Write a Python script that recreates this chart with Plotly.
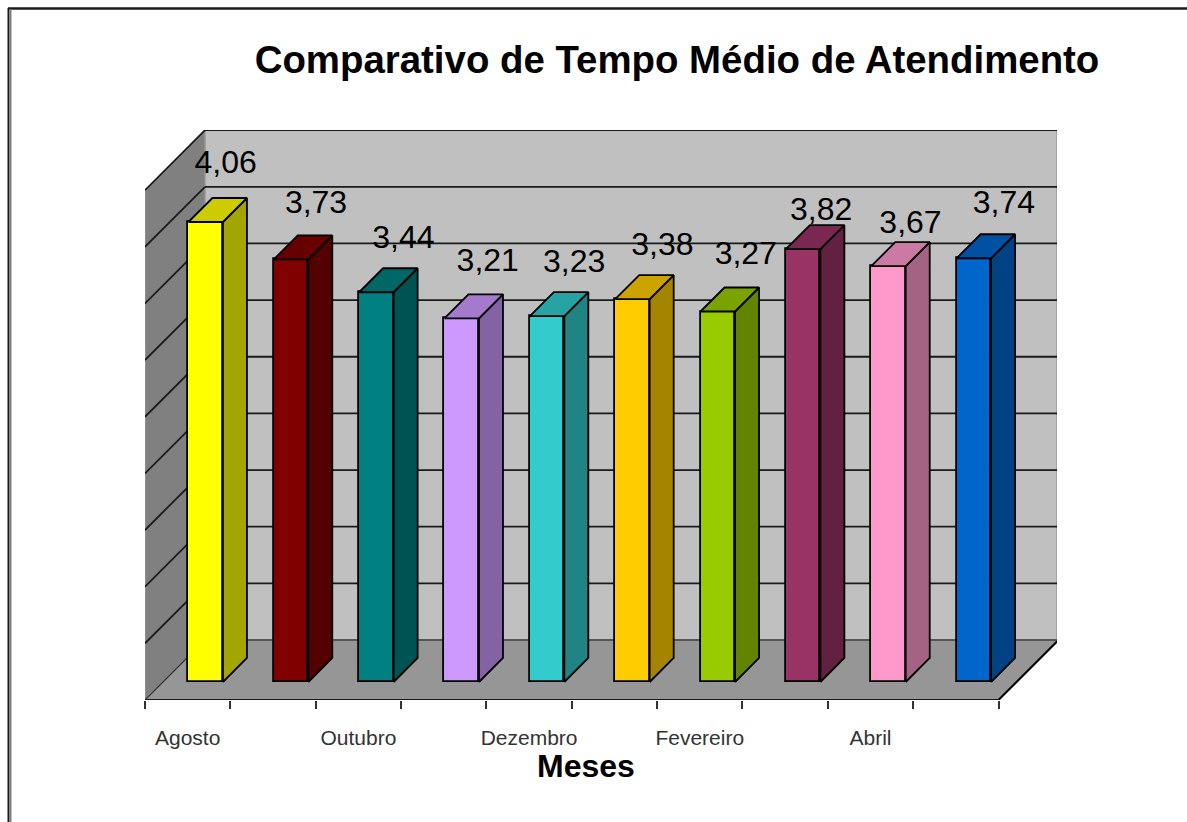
import plotly.graph_objects as go

# ---- data ----
months = ["Agosto", "Setembro", "Outubro", "Novembro", "Dezembro", "Janeiro",
          "Fevereiro", "Março", "Abril", "Maio"]
tick_labels = ["Agosto", "", "Outubro", "", "Dezembro", "", "Fevereiro", "", "Abril", ""]
values = [4.06, 3.73, 3.44, 3.21, 3.23, 3.38, 3.27, 3.82, 3.67, 3.74]
value_text = ["4,06", "3,73", "3,44", "3,21", "3,23", "3,38", "3,27", "3,82", "3,67", "3,74"]
colors = ["#FFFF00", "#800000", "#008080", "#CC99FF", "#33CCCC",
          "#FFCC00", "#99CC00", "#993366", "#FF99CC", "#0066CC"]
grid_values = [0.5, 1, 1.5, 2, 2.5, 3, 3.5, 4, 4.5]
# hand placement of the data labels, relative to each bar top (pixels)
label_dx = [20, 25, 27, 26, 27, 30, 28, 18, 22, 30]
label_dy = [57, 54, 52, 55, 52, 52, 56, 37, 41, 53]

# ---- geometry ----
W, H = 1187, 822
L, R, T, B = 145, 1057, 130, 700   # plot area in pixels
PX = 85.35   # pixels per category
PY = 113.3   # pixels per value unit
xp, yp = 1 / PX, 1 / PY
WALL = 60    # wall depth in pixels
DEPTH = 24   # bar depth in pixels
INSET = 18   # gap between floor front edge and bar front
BAR_W = 34.5
wx, wy = WALL * xp, WALL * yp
dx, dy = DEPTH * xp, DEPTH * yp
base = INSET * yp
n = len(values)
ymax = 4.5
xr = [0, (R - L) * xp]
yr = [0, (B - T) * yp]


def shade(hex_color, k):
    r, g, b = (int(hex_color[i:i + 2], 16) for i in (1, 3, 5))
    return f"rgb({int(r * k)},{int(g * k)},{int(b * k)})"


def poly(xs, ys, fill, line="rgba(0,0,0,0)", width=0):
    path = "M" + " L".join(f"{x},{y}" for x, y in zip(xs, ys)) + " Z"
    return dict(type="path", path=path, xref="x", yref="y", layer="below",
                fillcolor=fill, line=dict(color=line, width=width))


def seg(x0, y0, x1, y1, color="#1a1a1a", width=1.8):
    return dict(type="line", x0=x0, y0=y0, x1=x1, y1=y1, xref="x", yref="y",
                layer="below", line=dict(color=color, width=width))


shapes = [
    poly([wx, xr[1], xr[1], wx], [wy, wy, wy + ymax, wy + ymax], "#C0C0C0", "#9a9a9a", 1.5),
    poly([0, wx, wx, 0], [0, wy, wy + ymax, ymax], "#808080", "#a0a0a0", 1),
    poly([0, n, n + wx, wx], [0, 0, wy, wy], "#969696"),
]
for g in grid_values:
    shapes.append(seg(wx, wy + g, xr[1], wy + g))
    shapes.append(seg(0, g, wx, wy + g))
shapes += [
    seg(0, 0, wx, wy, "#333333", 1.2),
    seg(wx, wy, xr[1], wy, "#555555", 2),
    seg(n, 0, n + wx, wy, "#000000", 2),
    seg(0, 0, n, 0, "#1a1a1a", 2.2),
]
# page frame, top and left sides only
shapes += [
    dict(type="line", xref="paper", yref="paper", x0=(8 - L) / (R - L), x1=(W - L) / (R - L),
         y0=(B - 8.5) / (B - T), y1=(B - 8.5) / (B - T), line=dict(color="#1a1a1a", width=2.5)),
    dict(type="line", xref="paper", yref="paper", x0=(8.5 - L) / (R - L), x1=(8.5 - L) / (R - L),
         y0=(B - 8) / (B - T), y1=(B - H) / (B - T), line=dict(color="#1a1a1a", width=2)),
    dict(type="line", xref="paper", yref="paper", x0=(10.5 - L) / (R - L), x1=(10.5 - L) / (R - L),
         y0=(B - 9) / (B - T), y1=(B - H) / (B - T), line=dict(color="#808080", width=2)),
]

fronts = [i + 0.5 + INSET * xp for i in range(n)]
half = BAR_W * xp / 2

fig = go.Figure()
fig.add_trace(go.Bar(
    x=fronts, y=values, base=[base] * n, width=BAR_W * xp,
    marker=dict(color=colors, line=dict(color="#000000", width=1.8)),
    hoverinfo="skip", showlegend=False))

for c, v, f in zip(colors, values, fronts):
    top = base + v
    xl, xh = f - half, f + half
    fig.add_trace(go.Scatter(
        x=[xh, xh + dx, xh + dx, xh, xh], y=[base, base + dy, top + dy, top, base],
        mode="lines", fill="toself", fillcolor=shade(c, 0.65),
        line=dict(color="#000000", width=1.8), hoverinfo="skip", showlegend=False))
    fig.add_trace(go.Scatter(
        x=[xl, xl + dx, xh + dx, xh, xl], y=[top, top + dy, top + dy, top, top],
        mode="lines", fill="toself", fillcolor=shade(c, 0.8),
        line=dict(color="#000000", width=1.8), hoverinfo="skip", showlegend=False))

fig.add_trace(go.Scatter(
    x=[f + a * xp for f, a in zip(fronts, label_dx)],
    y=[base + v + b * yp for v, b in zip(values, label_dy)],
    mode="text", text=value_text, textposition="middle center",
    textfont=dict(family="Liberation Sans", size=32, color="#000000"),
    hoverinfo="skip", showlegend=False, cliponaxis=False))

fig.update_layout(
    width=W, height=H,
    margin=dict(l=L, r=W - R, t=T, b=H - B, pad=0),
    paper_bgcolor="#FFFFFF", plot_bgcolor="rgba(0,0,0,0)",
    showlegend=False, bargap=0,
    font=dict(family="Liberation Sans", color="#000000"),
    title=dict(text="<b>Comparativo de Tempo Médio de Atendimento</b>",
               x=677 / W, xref="container", xanchor="center",
               y=1 - 60 / H, yref="container", yanchor="middle",
               font=dict(family="Liberation Sans", size=38.4, color="#000000")),
    xaxis=dict(range=xr, showgrid=False, zeroline=False, showline=False,
               tickmode="array", tickvals=[i + 0.5 for i in range(n)], ticktext=tick_labels,
               ticks="", ticklabelstandoff=23, tickangle=0,
               tickfont=dict(family="Liberation Sans", size=21, color="#333333"),
               minor=dict(tickmode="array", tickvals=list(range(n + 1)),
                          ticks="outside", ticklen=8, tickwidth=1.5, tickcolor="#333333",
                          showgrid=False)),
    yaxis=dict(range=yr, visible=False),
    shapes=shapes,
    annotations=[dict(text="<b>Meses</b>", xref="paper", yref="paper",
                      x=(586 - L) / (R - L), y=(B - 766) / (B - T),
                      xanchor="center", yanchor="middle", showarrow=False,
                      font=dict(family="Liberation Sans", size=32, color="#000000"))],
)

fig.write_html("out.html", config={"displayModeBar": False},
               post_script="document.body.style.margin='0';")
